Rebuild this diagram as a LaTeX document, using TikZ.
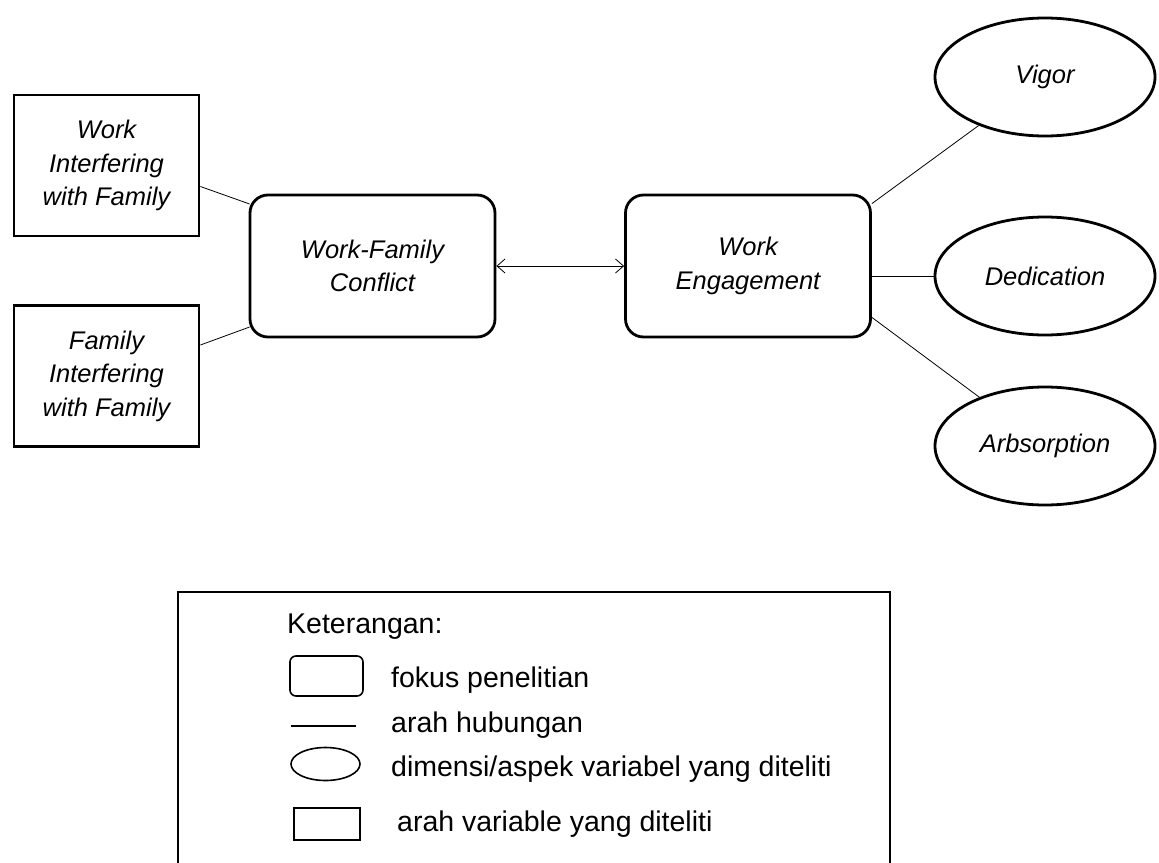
\documentclass[tikz,border=0pt]{standalone}
\usepackage{fontspec}
\setmainfont{Liberation Sans}
\usetikzlibrary{shapes.geometric,arrows.meta,calc}
\begin{document}
\begin{tikzpicture}[x=1pt,y=-1pt,
  mainfont/.style={font=\fontsize{25.5}{33.5}\selectfont\itshape},
  sqbox/.style={draw,line width=2.8pt,minimum width=185pt,minimum height=141pt,align=center,inner sep=0pt,mainfont},
  rbox/.style={draw,line width=2.8pt,rounded corners=18pt,minimum width=245pt,minimum height=142pt,align=center,inner sep=0pt,mainfont},
  dimnode/.style={draw,ellipse,line width=2.8pt,minimum width=220pt,minimum height=118pt,inner sep=0pt,mainfont},
  link/.style={line width=0.8pt},
  legtext/.style={anchor=base west,font=\fontsize{28.5}{32}\selectfont,inner sep=0pt},
  legshape/.style={draw,line width=1.6pt,inner sep=0pt}
]
\useasboundingbox (0,0) rectangle (1159,862);

% main nodes
\node[sqbox] (wif) at (106.5,165.5) {Work\\Interfering\\with Family};
\node[sqbox] (fif) at (106.5,376) {Family\\Interfering\\with Family};
\node[rbox] (wfc) at (372.5,266) {Work-Family\\Conflict};
\node[rbox] (we) at (748,266) {Work\\Engagement};
\node[dimnode] (vigor) at (1045,77) {Vigor};
\node[dimnode] (ded) at (1045,276) {Dedication};
\node[dimnode] (arb) at (1045,446) {Arbsorption};

% connectors
\draw[link] ($(wif.east)+(0,21)$) -- ($(wfc.west)+(1,-62)$);
\draw[link] ($(fif.east)+(0,-31)$) -- ($(wfc.west)+(1,61)$);
\draw[link,{Straight Barb[length=8pt,width=14pt]}-{Straight Barb[length=8pt,width=14pt]}] (wfc.east) -- (we.west);
\draw[link] ($(we.north east)+(0,10)$) -- (vigor);
\draw[link] (ded.west -| we.east) -- (ded.west);
\draw[link] ($(we.south east)+(0,-21)$) -- (arb);

% legend
\node[draw,line width=1.8pt,minimum width=712pt,minimum height=320pt,anchor=north west,inner sep=0pt] (legend) at (177,591) {};
\node[legtext] (lgtitle) at (287,633) {Keterangan:};
\node[legshape,rounded corners=6pt,minimum width=73pt,minimum height=40pt] (lgrbox) at (326.5,676) {};
\node[legtext] (lgt1) at (391,687) {fokus penelitian};
\coordinate (lgl1) at (291,726);
\coordinate (lgl2) at (356,726);
\draw[line width=1.2pt] (lgl1) -- (lgl2);
\node[legtext] (lgt2) at (391,732) {arah hubungan};
\node[legshape,ellipse,minimum width=69pt,minimum height=33pt] (lgell) at (325.5,764) {};
\node[legtext] (lgt3) at (391,776) {dimensi/aspek variabel yang diteliti};
\node[legshape,minimum width=66pt,minimum height=32pt] (lgrect) at (327,824) {};
\node[legtext] (lgt4) at (397,831) {arah variable yang diteliti};
\end{tikzpicture}
\end{document}
